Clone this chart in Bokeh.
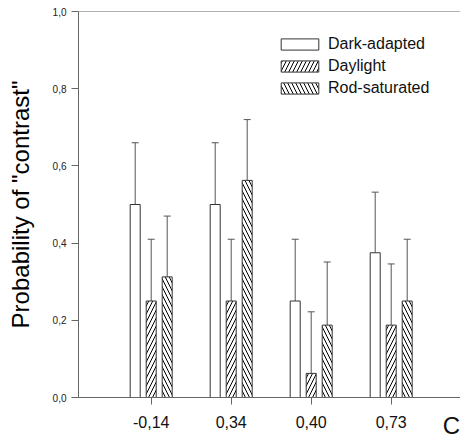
from bokeh.plotting import figure
from bokeh.models import (ColumnDataSource, Range1d, FixedTicker, CustomJSTickFormatter,
                          Whisker, TeeHead, Legend, LegendItem, Span, LinearAxis)
from bokeh.embed import file_html
from bokeh.resources import INLINE

# ---- data ----
categories = ["-0,14", "0,34", "0,40", "0,73"]
series = ["Dark-adapted", "Daylight", "Rod-saturated"]
dark = [0.5, 0.5, 0.25, 0.375]
dark_err = [0.66, 0.66, 0.41, 0.532]
daylight = [0.25, 0.25, 0.0625, 0.1875]
daylight_err = [0.41, 0.41, 0.222, 0.346]
rod = [0.3125, 0.5625, 0.1875, 0.25]
rod_err = [0.47, 0.72, 0.351, 0.41]
y_ticks = [0.0, 0.2, 0.4, 0.6, 0.8, 1.0]
x_title = "C"

FONT = "Liberation Sans"
AX = "#666666"

positions = [i + 1 for i in range(len(categories))]
x_start = 1 - 72.7 / 80.0
x_end = x_start + 382 / 80.0
c_pos = x_start + (451.7 - 78) / 80.0

p = figure(width=460, height=441, output_backend="svg", toolbar_location=None,
           x_range=Range1d(x_start, x_end), y_range=Range1d(0, 1.0),
           min_border_left=78, min_border_right=0, min_border_top=11, min_border_bottom=44)
p.outline_line_color = None
p.xgrid.visible = False
p.ygrid.visible = False
p.background_fill_color = "white"
p.border_fill_color = "white"

# axes
p.yaxis.ticker = FixedTicker(ticks=y_ticks)
p.yaxis.formatter = CustomJSTickFormatter(code="return tick.toFixed(1).replace('.', ',');")
p.yaxis.axis_label = 'Probability of "contrast"'
p.yaxis.axis_label_text_font = FONT
p.yaxis.axis_label_text_font_size = "24px"
p.yaxis.axis_label_text_font_style = "normal"
p.yaxis.axis_label_text_color = "black"
p.yaxis.axis_label_standoff = 16
p.yaxis.major_label_text_font = FONT
p.yaxis.major_label_text_font_size = "10px"
p.yaxis.major_label_text_color = "#222222"
p.yaxis.major_label_standoff = 5

p.xaxis.ticker = FixedTicker(ticks=positions)
p.xaxis.major_label_overrides = {pos: lab for pos, lab in zip(positions, categories)}
p.xaxis.major_label_text_font = FONT
p.xaxis.major_label_text_font_size = "16px"
p.xaxis.major_label_text_color = "#111111"
p.xaxis.major_label_standoff = 11

for ax in (p.xaxis, p.yaxis):
    ax.axis_line_color = AX
    ax.major_tick_line_color = AX
    ax.major_tick_out = 7
    ax.major_tick_in = 0
    ax.minor_tick_line_color = None

# second, label-only axis carrying the "C" title at the right end
c_axis = LinearAxis(ticker=FixedTicker(ticks=[c_pos]),
                    formatter=CustomJSTickFormatter(code="return '%s';" % x_title),
                    axis_line_color=None, major_tick_line_color=None, minor_tick_line_color=None,
                    major_tick_out=0, major_tick_in=0, major_label_standoff=-19,
                    major_label_text_font=FONT, major_label_text_font_size="24px",
                    major_label_text_color="#111111")
p.add_layout(c_axis, "below")

p.add_layout(Span(location=1.0, dimension="width", line_color=AX, line_width=1))

# bars
specs = [
    (dark, dark_err, -0.2, None),
    (daylight, daylight_err, 0.0, "/"),
    (rod, rod_err, 0.2, "\\"),
]
renderers = []
for vals, errs, off, hatch in specs:
    src = ColumnDataSource(dict(x=[pp + off for pp in positions], top=vals, err=errs))
    w = Whisker(base="x", lower="top", upper="err", source=src, dimension="height",
                line_color="#555555", line_width=1,
                upper_head=TeeHead(size=7, line_color="#555555", line_width=1),
                lower_head=None)
    p.add_layout(w)
    kw = dict(fill_color="white", line_color="#333333", line_width=1)
    if hatch:
        kw.update(hatch_pattern=hatch, hatch_color="black", hatch_scale=8, hatch_weight=1)
    r = p.vbar(x="x", top="top", bottom=0, width=0.125, source=src, **kw)
    renderers.append(r)

legend = Legend(items=[LegendItem(label=s, renderers=[r]) for s, r in zip(series, renderers)],
                location=(198, 299), glyph_width=47, glyph_height=14, label_standoff=5,
                spacing=2, padding=0, margin=0, border_line_color=None,
                background_fill_alpha=0, label_text_font=FONT, label_text_font_size="16px",
                label_height=20, label_text_color="#111111")
p.add_layout(legend)

open("out.html", "w").write(file_html(p, INLINE))
